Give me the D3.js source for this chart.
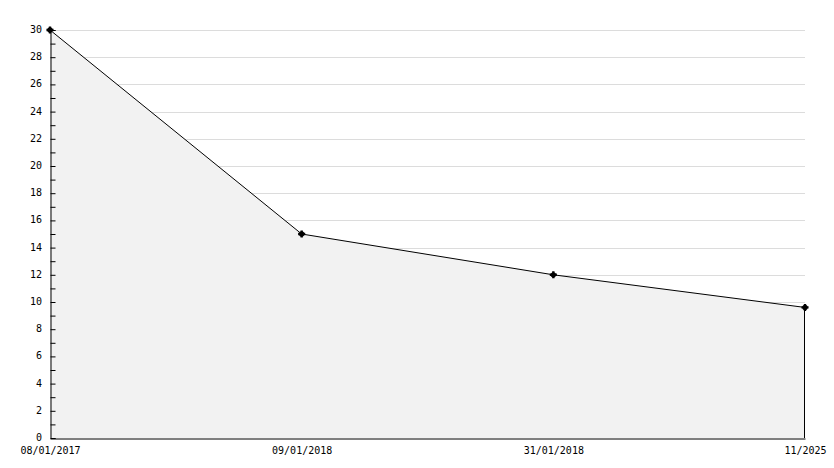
<!DOCTYPE html>
<html>
<head>
<meta charset="utf-8">
<script src="https://cdn.jsdelivr.net/npm/d3@7"></script>
<style>
  body { margin: 0; background: #fff; }
  svg { display: block; }
  text { font-family: "DejaVu Sans Mono", monospace; font-size: 10px; fill: #000; }
</style>
</head>
<body>
<svg id="chart" width="834" height="468"></svg>
<script>
const dates = ["08/01/2017", "09/01/2018", "31/01/2018", "11/2025"];
const values = [30, 15, 12, 9.6];
const yTicks = d3.range(0, 31, 2);
const yMinorTicks = d3.range(0, 31, 1);

const width = 834;
const height = 468;
const margin = { top: 30, right: 29, bottom: 30, left: 50 };

const svg = d3.select("#chart");

const x = d3.scalePoint()
  .domain(dates)
  .range([margin.left, width - margin.right]);

const y = d3.scaleLinear()
  .domain([0, 30])
  .range([height - margin.bottom, margin.top]);

const data = dates.map((d, i) => ({ date: d, value: values[i] }));

// gridlines
svg.append("g")
  .selectAll("line")
  .data(yTicks.filter(d => d > 0))
  .enter()
  .append("line")
  .attr("x1", margin.left)
  .attr("x2", width - margin.right)
  .attr("y1", d => Math.round(y(d)) + 0.5)
  .attr("y2", d => Math.round(y(d)) + 0.5)
  .attr("stroke", "#dcdcdc")
  .attr("stroke-width", 1);

// area
const area = d3.area()
  .x(d => x(d.date))
  .y0(y(0))
  .y1(d => y(d.value));

svg.append("path")
  .datum(data)
  .attr("d", area)
  .attr("fill", "#f2f2f2");

// line
const line = d3.line()
  .x(d => x(d.date))
  .y(d => y(d.value));

svg.append("path")
  .datum(data)
  .attr("d", line)
  .attr("fill", "none")
  .attr("stroke", "#000")
  .attr("stroke-width", 1);

// right edge of area
const last = data[data.length - 1];
svg.append("line")
  .attr("x1", Math.round(x(last.date)) - 0.5)
  .attr("x2", Math.round(x(last.date)) - 0.5)
  .attr("y1", y(last.value))
  .attr("y2", y(0))
  .attr("stroke", "#000");

// y axis
const yAxis = d3.axisRight(y)
  .tickValues(yMinorTicks)
  .tickSize(5)
  .tickFormat("");

const yg = svg.append("g")
  .attr("transform", `translate(${margin.left + 0.5},0)`)
  .call(yAxis);
yg.select(".domain").attr("stroke", "#000");

svg.append("g")
  .selectAll("text")
  .data(yTicks)
  .enter()
  .append("text")
  .attr("x", margin.left - 8)
  .attr("y", d => y(d))
  .attr("dy", "0.3em")
  .attr("text-anchor", "end")
  .text(d => d);

// x axis
const xAxis = d3.axisBottom(x).tickSize(0).tickPadding(8);
const xg = svg.append("g")
  .attr("transform", `translate(0,${Math.round(y(0)) + 0.5})`)
  .call(xAxis);
xg.select(".domain").attr("stroke", "#000");
xg.selectAll("text")
  .style("font-family", "DejaVu Sans Mono, monospace")
  .style("font-size", "10px");

// markers
const markers = svg.append("g")
  .selectAll("g")
  .data(data)
  .enter()
  .append("g")
  .attr("transform", d => `translate(${x(d.date)},${y(d.value)})`);

markers.append("path")
  .attr("d", d3.symbol().type(d3.symbolCircle).size(22))
  .attr("fill", "#000");

markers.append("path")
  .attr("d", d3.symbol().type(d3.symbolCross).size(28))
  .attr("fill", "#000");
</script>
</body>
</html>
